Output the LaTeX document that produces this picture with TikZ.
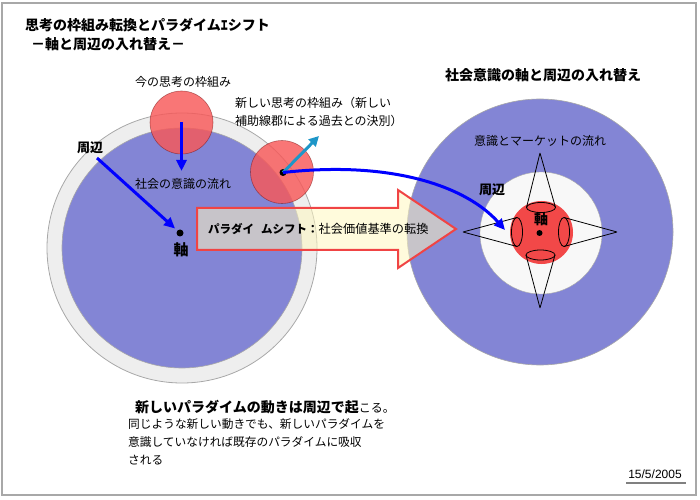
\documentclass[tikz,border=0pt]{standalone}
\usepackage{fontspec}
\setmainfont{Noto Sans CJK JP}
\newfontfamily\latinfont{Liberation Sans}
\usetikzlibrary{arrows.meta}
\definecolor{ringgray}{HTML}{EEEEEE}
\definecolor{edgegray}{HTML}{A8A8A8}
\definecolor{cblue}{HTML}{8385D5}
\definecolor{cred}{HTML}{F85858}
\definecolor{rred}{HTML}{F24848}
\definecolor{arrowfill}{HTML}{FFF8C0}
\definecolor{arrowedge}{HTML}{F04444}
\definecolor{cyanarr}{HTML}{1E96C8}
\definecolor{whitec}{HTML}{F8F8F8}
\tikzset{
  lbl/.style={font=\fontsize{12bp}{14bp}\selectfont, inner sep=0pt},
  blbl/.style={font=\fontsize{14bp}{16bp}\selectfont\bfseries, inner sep=0pt},
  slbl/.style={font=\fontsize{13bp}{15bp}\selectfont\bfseries, inner sep=0pt},
  flow/.style={draw=blue, line width=3bp, -{Triangle[length=11bp,width=10bp]}},
  disc/.style={circle, inner sep=0pt, minimum size=#1},
  redcirc/.style={circle, inner sep=0pt, minimum size=63bp, fill=cred, fill opacity=0.82,
     draw=red!40!black, draw opacity=0.45, line width=0.6bp},
  blackdot/.style={circle, fill=black, inner sep=0pt, minimum size=7bp},
  cone/.style={draw=black, line width=0.8bp},
}
\begin{document}
\begin{tikzpicture}[x=1bp,y=-1bp]
\useasboundingbox (0,0) rectangle (700,500);
% frame
\draw[edgegray, line width=2bp] (2,3) rectangle (696,495);

% titles
\node[blbl, anchor=west] (title1) at (25,25) {思考の枠組み転換とパラダイムｴシフト};
\node[blbl, anchor=west] (title2) at (31,44) {－軸と周辺の入れ替え－};

% ===== left diagram =====
\node[disc=270bp, fill=ringgray, draw=edgegray, line width=0.8bp] (ring) at (182,248) {};
\node[disc=240bp, fill=cblue, draw=edgegray, line width=0.6bp] (core) at (182,248) {};

\node[redcirc] (nowframe) at (181.5,122.5) {};
\node[redcirc] (newframe) at (282,172) {};

\node[lbl] (nowlbl) at (183,82) {今の思考の枠組み};
\node[lbl, anchor=west] (newlbl1) at (235,103) {新しい思考の枠組み（新しい};
\node[lbl, anchor=west] (newlbl2) at (235,121) {補助線郡による過去との決別）};

\node[lbl] (flowlbl) at (183,184) {社会の意識の流れ};
\node[slbl] (periL) at (90,148) {周辺};
\node[blackdot] (axisdotL) at (180,233) {};
\node[blbl, font=\fontsize{15bp}{17bp}\selectfont\bfseries] (axisL) at (181,250) {軸};

\coordinate (flowtip) at (181.5,171);
\draw[flow] (nowframe.center) -- (flowtip);
\coordinate (periLstart) at (97,158);
\draw[flow, shorten >=3bp] (periLstart) -- (axisdotL);

\node[blackdot] (newdot) at (283,172.5) {};
\coordinate (cyantip) at (319,136);
\draw[draw=cyanarr, line width=3bp, -{Triangle[length=10bp,width=10bp]}] (newdot.center) -- (cyantip);

% ===== right diagram =====
\node[disc=266bp, fill=cblue, draw=edgegray, line width=0.6bp] (outerR) at (540,232) {};
\node[disc=122bp, fill=whitec, draw=edgegray, line width=0.4bp] (innerR) at (541,233) {};
\node[disc=63bp, fill=rred] (redR) at (541.5,232.5) {};

\node[blbl] (titleR) at (543,75) {社会意識の軸と周辺の入れ替え};
\node[lbl] (marketlbl) at (540,141) {意識とマーケットの流れ};
\node[slbl] (periR) at (492,190) {周辺};

% cones
\coordinate (apexT) at (540,153);
\coordinate (apexB) at (540,308);
\coordinate (apexL) at (463,232);
\coordinate (apexR) at (617,232);
\draw[cone] (apexT) -- (526.5,207.5) (apexT) -- (555.5,207.5);
\draw[cone] (541,207.5) ellipse [x radius=14.5bp, y radius=5bp];
\draw[cone] (apexB) -- (526,255) (apexB) -- (555,255);
\draw[cone] (540.5,255) ellipse [x radius=14.5bp, y radius=5bp];
\draw[cone] (apexL) -- (517,217.5) (apexL) -- (517,246.5);
\draw[cone] (517,232) ellipse [x radius=5.5bp, y radius=14.5bp];
\draw[cone] (apexR) -- (564,217.5) (apexR) -- (564,246.5);
\draw[cone] (564,232) ellipse [x radius=5.5bp, y radius=14.5bp];

\node[blbl, font=\fontsize{14bp}{16bp}\selectfont\bfseries] (axisR) at (541,219) {軸};
\node[blackdot, minimum size=6bp] (axisdotR) at (539.5,233) {};

% ===== paradigm shift arrow =====
\draw[draw=arrowedge, line width=2bp, fill=arrowfill, fill opacity=0.55]
  (197,208) -- (398,208) -- (398,190) -- (456,229) -- (398,268) -- (398,250) -- (197,250) -- cycle;
\node[lbl, anchor=west, font=\fontsize{12.2bp}{14bp}\selectfont] (shiftlbl) at (208,229)
  {{\fontsize{11.5bp}{14bp}\selectfont\bfseries パラダイ\hspace{7bp}ムシフト：}社会価値基準の転換};

% blue curve from new frame to right diagram
\coordinate (curveend) at (505,230);
\draw[flow] (newdot.center) .. controls (395,160) and (468,188) .. (curveend);

% ===== bottom text =====
\node[lbl, anchor=west] (bottom1) at (135,407)
  {{\fontsize{14bp}{16bp}\selectfont\bfseries 新しいパラダイムの動きは周辺で起}こる。};
\node[lbl, anchor=west, font=\fontsize{11.7bp}{14bp}\selectfont] (bottom2) at (128,424) {同じような新しい動きでも、新しいパラダイムを};
\node[lbl, anchor=west, font=\fontsize{11.7bp}{14bp}\selectfont] (bottom3) at (128,442) {意識していなければ既存のパラダイムに吸収};
\node[lbl, anchor=west, font=\fontsize{11.7bp}{14bp}\selectfont] (bottom4) at (128,460) {される};

% date
\node[inner sep=0pt, font=\latinfont\fontsize{12bp}{14bp}\selectfont] (date) at (655,474) {15/5/2005};
\draw[draw=gray, line width=2bp] (626,483) -- (686,483);
\end{tikzpicture}
\end{document}
